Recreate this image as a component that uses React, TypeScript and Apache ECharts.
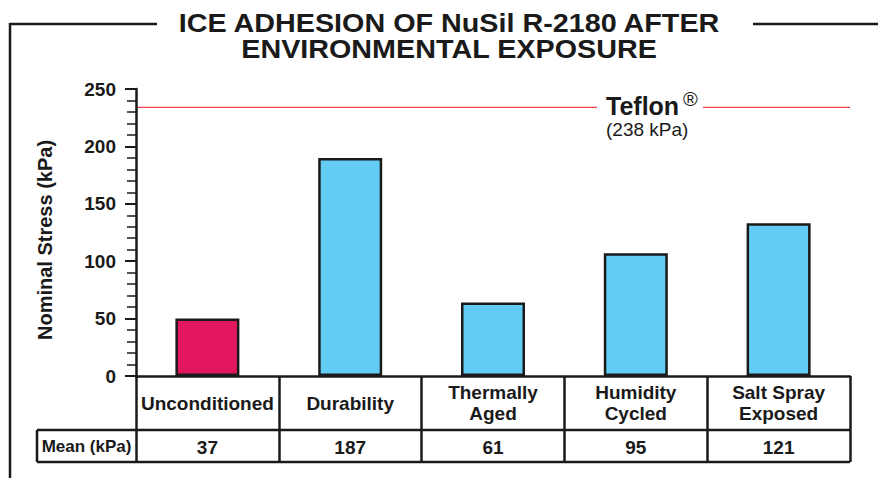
import React, { useEffect, useRef } from "react";
import * as echarts from "echarts";

const titleLines = ["ICE ADHESION OF NuSil R-2180 AFTER", "ENVIRONMENTAL EXPOSURE"];
const categories = ["Unconditioned", "Durability", "Thermally\nAged", "Humidity\nCycled", "Salt Spray\nExposed"];
const barValues = [50, 190, 64, 107, 133];
const meanValues = [37, 187, 61, 95, 121];
const barColors = ["#e3175f", "#62ccf4", "#62ccf4", "#62ccf4", "#62ccf4"];
const yMin = 0;
const yMax = 250;
const yInterval = 50;
const teflonLineValue = 234;
const teflonName = "Teflon";
const teflonLabel = "(238 kPa)";
const yAxisName = "Nominal Stress (kPa)";
const meanRowLabel = "Mean (kPa)";

const FONT = "'Liberation Sans', Arial, Helvetica, sans-serif";
const INK = "#1a1a1a";

export default function App() {
  const ref = useRef<HTMLDivElement>(null);

  useEffect(() => {
    if (!ref.current) return;
    const chart = echarts.init(ref.current, undefined, { renderer: "svg" });

    const baseGraphic: any[] = [
      { id: "f1", type: "line", shape: { x1: 10, y1: 24, x2: 157, y2: 24 }, style: { stroke: INK, lineWidth: 2.5 } },
      { id: "f2", type: "line", shape: { x1: 753, y1: 24, x2: 878, y2: 24 }, style: { stroke: INK, lineWidth: 2.5 } },
      { id: "f3", type: "line", shape: { x1: 10, y1: 23, x2: 10, y2: 478 }, style: { stroke: INK, lineWidth: 2.5 } },
      ...titleLines.map((t, i) => ({
        id: "title" + i,
        type: "text",
        x: 449,
        y: 23 + i * 26,
        scaleX: 1.15,
        scaleY: 1.04,
        style: {
          text: t,
          font: `bold 25px ${FONT}`,
          fill: INK,
          textAlign: "center",
          textVerticalAlign: "middle",
        },
      })),
      {
        id: "yname",
        type: "text",
        x: 45,
        y: 240,
        rotation: Math.PI / 2,
        style: { text: yAxisName, font: `bold 20px ${FONT}`, fill: INK, textAlign: "center", textVerticalAlign: "middle" },
      },
      { id: "tb1", type: "line", shape: { x1: 37, y1: 430, x2: 850, y2: 430 }, style: { stroke: INK, lineWidth: 2.5 } },
      { id: "tb2", type: "line", shape: { x1: 37, y1: 462, x2: 850, y2: 462 }, style: { stroke: INK, lineWidth: 2.5 } },
      { id: "tb3", type: "line", shape: { x1: 37, y1: 430, x2: 37, y2: 462 }, style: { stroke: INK, lineWidth: 2.5 } },
      {
        id: "meanlbl",
        type: "text",
        x: 86.5,
        y: 446,
        style: { text: meanRowLabel, font: `bold 17px ${FONT}`, fill: INK, textAlign: "center", textVerticalAlign: "middle" },
      },
    ];

    const labelCommon = { fontFamily: FONT, fontWeight: "bold" as const, fontSize: 19, color: INK };

    chart.setOption({
      animation: false,
      grid: { left: 136, top: 89, width: 714, height: 287, containLabel: false },
      xAxis: [
        {
          type: "category",
          data: categories,
          position: "bottom",
          axisLine: { show: true, lineStyle: { color: INK, width: 2.5 } },
          axisTick: { show: true, alignWithLabel: false, length: 86, lineStyle: { color: INK, width: 2.5 } },
          axisLabel: { ...labelCommon, interval: 0, margin: 27, verticalAlign: "middle", lineHeight: 21 },
          splitLine: { show: false },
        },
        {
          type: "category",
          data: categories,
          position: "bottom",
          offset: 0,
          axisLine: { show: false },
          axisTick: { show: false },
          axisLabel: {
            ...labelCommon,
            interval: 0,
            margin: 71,
            verticalAlign: "middle",
            formatter: (_v: string, i: number) => String(meanValues[i]),
          },
          splitLine: { show: false },
        },
      ],
      yAxis: {
        type: "value",
        min: yMin,
        max: yMax,
        interval: yInterval,
        axisLine: { show: true, lineStyle: { color: INK, width: 2.5 } },
        axisTick: { show: true, length: 11, lineStyle: { color: INK, width: 2 } },
        minorTick: { show: true, splitNumber: 5, length: 9, lineStyle: { color: INK, width: 1.5 } },
        splitLine: { show: false },
        axisLabel: { ...labelCommon, margin: 20 },
      },
      series: [
        {
          type: "bar",
          xAxisIndex: 0,
          barWidth: 64,
          data: barValues.map((v, i) => ({ value: v, itemStyle: { color: barColors[i] } })),
          itemStyle: { borderColor: INK, borderWidth: 2.5 },
        },
      ],
      graphic: baseGraphic,
    });

    const yLine = chart.convertToPixel({ yAxisIndex: 0 }, teflonLineValue) as number;
    const red = "#e8424b";
    chart.setOption({
      graphic: [
        ...baseGraphic,
        { id: "tl1", type: "line", shape: { x1: 137, y1: yLine, x2: 597, y2: yLine }, style: { stroke: red, lineWidth: 1.2 } },
        { id: "tl2", type: "line", shape: { x1: 703, y1: yLine, x2: 850, y2: yLine }, style: { stroke: red, lineWidth: 1.2 } },
        {
          id: "tn",
          type: "text",
          x: 606,
          y: yLine - 1,
          style: { text: teflonName, font: `bold 25px ${FONT}`, fill: INK, textAlign: "left", textVerticalAlign: "middle" },
        },
        {
          id: "treg",
          type: "text",
          x: 683,
          y: yLine - 8,
          style: { text: "®", font: `20px ${FONT}`, fill: INK, textAlign: "left", textVerticalAlign: "middle" },
        },
        {
          id: "tv",
          type: "text",
          x: 606,
          y: yLine + 22,
          style: { text: teflonLabel, font: `19px ${FONT}`, fill: INK, textAlign: "left", textVerticalAlign: "middle" },
        },
      ],
    });

    return () => chart.dispose();
  }, []);

  return (
    <div
      ref={ref}
      style={{ position: "absolute", left: 0, top: 0, width: 878, height: 478, background: "#fff" }}
    />
  );
}
